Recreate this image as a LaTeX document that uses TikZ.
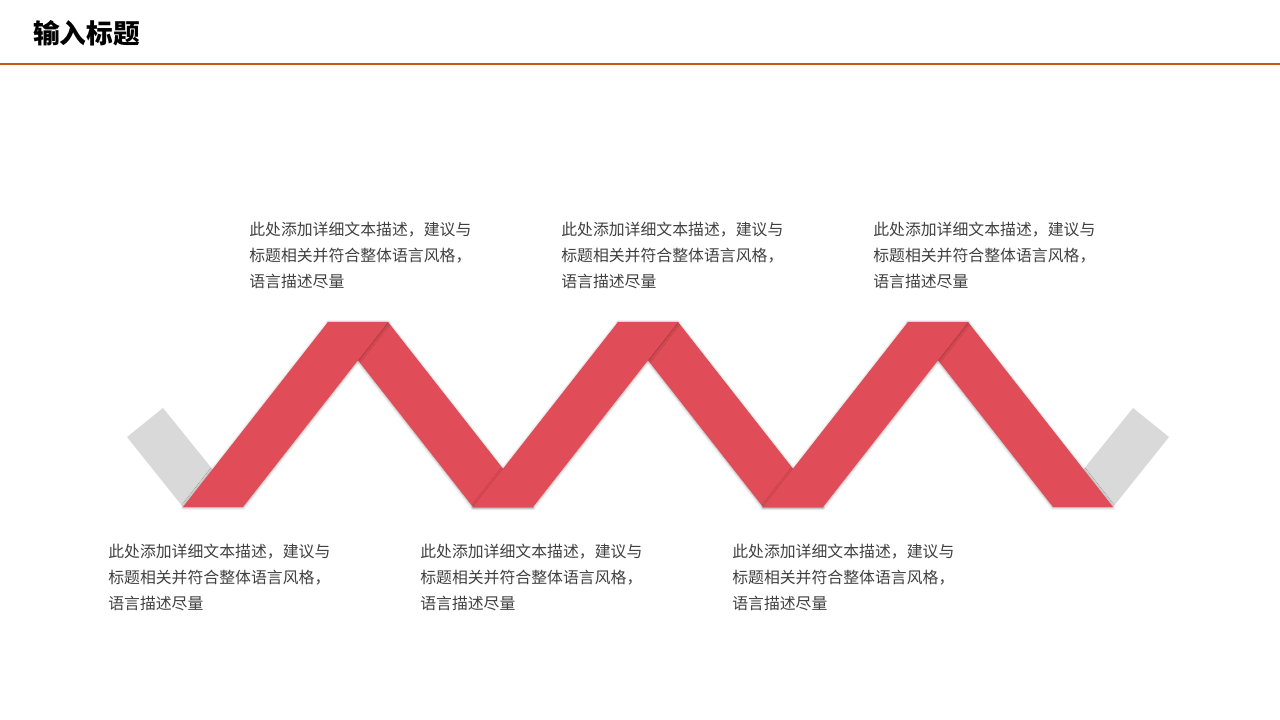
\documentclass[tikz,border=0pt]{standalone}
\usepackage{fontspec}
\newfontfamily\cjk{Noto Sans CJK SC}
\usetikzlibrary{shadows.blur}
\definecolor{ribbonred}{HTML}{E04C58}
\definecolor{ribbongrey}{HTML}{D9D9D9}
\definecolor{titleline}{HTML}{C55A11}
\definecolor{desctext}{HTML}{404040}
\newcommand{\desctxt}{此处添加详细文本描述，建议与\\标题相关并符合整体语言风格，\\语言描述尽量}

\begin{document}
\begin{tikzpicture}[x=0.75pt,y=-0.75pt,
  strip/.style={fill=ribbonred,blur shadow={shadow xshift=0pt,shadow yshift=-0.6pt,
                shadow blur radius=2pt,shadow opacity=35}},
  desc/.style={anchor=north west,align=left,inner sep=0pt,text=desctext,
               font=\cjk\fontsize{11.9}{19.5}\selectfont}]
\useasboundingbox (0,0) rectangle (1280,720);

% title bar
\node [anchor=west,inner sep=0pt,font=\cjk\bfseries\fontsize{20}{24}\selectfont] (title) at (33,33) {输入标题};
\draw [titleline,line width=1.5pt] (0,64) -- (1280,64);

% grey ends
\fill [ribbongrey] (183,507) -- (127,437) -- (163,408) -- (243,507) -- cycle;
\fill [ribbongrey] (1113,507) -- (1169,437) -- (1133,408) -- (1053,507) -- cycle;

% ribbon: down strips below, up strips on top
\foreach \x in {328,618,908}
   \path [strip] (\x,322) -- ++(60,0) -- ++(145,185) -- ++(-60,0) -- cycle;
\foreach \x in {183,473,763}
   \path [strip] (\x,507) -- ++(60,0) -- ++(145,-185) -- ++(-60,0) -- cycle;

% texts
\foreach [count=\i] \x/\y in {249/222,561/222,873/222,108/544,420/544,732/544}
   \node [desc] (desc\i) at (\x,\y) {\desctxt};
\end{tikzpicture}
\end{document}
